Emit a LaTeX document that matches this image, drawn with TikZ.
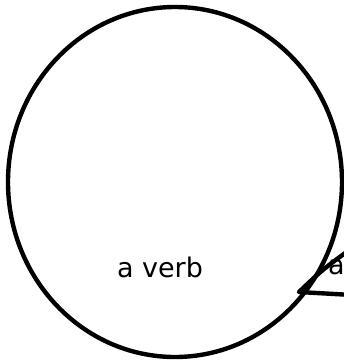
\documentclass[tikz,border=0pt]{standalone}
\usepackage{fontspec}
\setmainfont{DejaVu Sans}
\begin{document}
\begin{tikzpicture}[x=1pt,y=-1pt,
  inkline/.style={line width=4.4pt, line join=round, line cap=round},
  lbl/.style={font=\fontsize{27}{30}\selectfont, inner sep=0pt}]
\useasboundingbox (0,0) rectangle (344,362);
\clip (0,0) rectangle (344,362);
\fill[white] (0,0) rectangle (344,362);
% big circle
\draw[inkline] (175,182) ellipse [x radius=167, y radius=175];
\node[lbl] (verb) at (160,267) {a verb};
% second (clipped) bubble
\coordinate (tip) at (299,292);
\coordinate (up) at (352,248);
\coordinate (dn) at (352,295);
\draw[inkline] (up) .. controls (322,270) .. (tip) -- (dn);
\node[lbl, anchor=west] (a2) at (328,267) {a};
\end{tikzpicture}
\end{document}
